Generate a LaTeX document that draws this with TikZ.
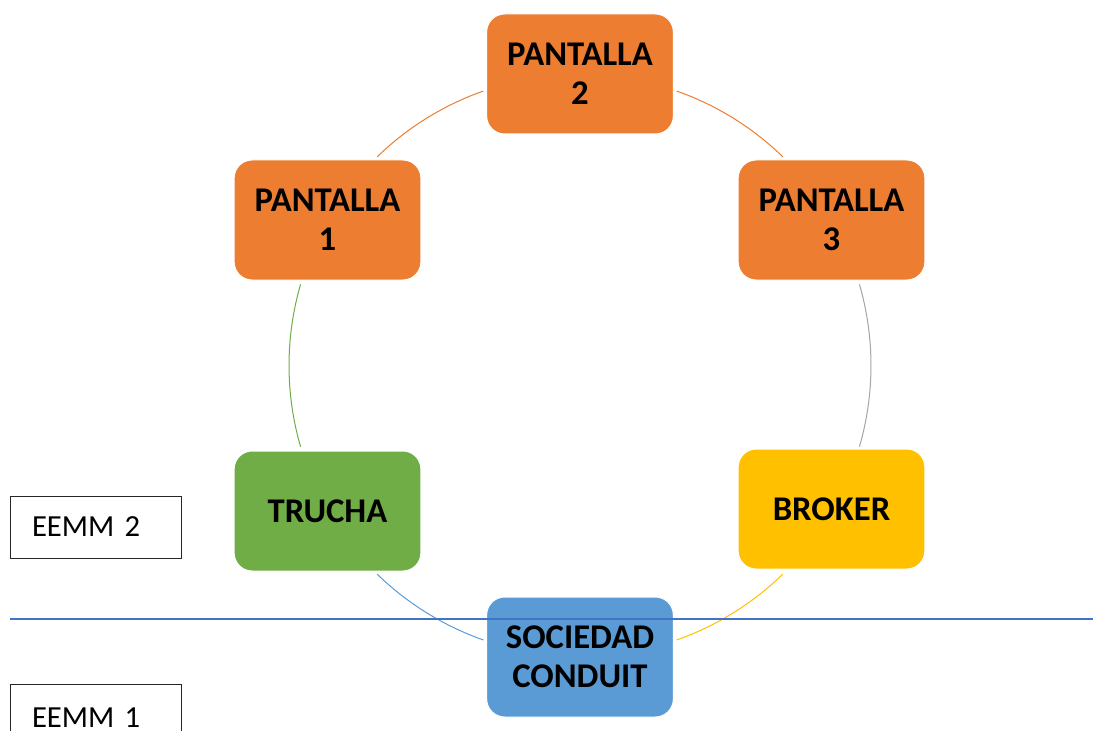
\documentclass[tikz,border=0pt]{standalone}
\usepackage{fontspec}
\setmainfont{Carlito}
\usetikzlibrary{calc}
\definecolor{ppOrange}{HTML}{ED7D31}
\definecolor{ppGray}{HTML}{A5A5A5}
\definecolor{ppYellow}{HTML}{FFC000}
\definecolor{ppBlue}{HTML}{5B9BD5}
\definecolor{ppGreen}{HTML}{70AD47}
\definecolor{ppLine}{HTML}{4472C4}

\begin{document}
\begin{tikzpicture}[
    x=0.75pt, y=-0.75pt,
    stage/.style={rectangle, rounded corners=13.5pt, draw=white, line width=0.75pt,
                  minimum width=140pt, minimum height=90pt, inner sep=2pt,
                  align=center, font=\fontsize{26}{29}\selectfont\bfseries},
    levelbox/.style={rectangle, draw=black!85, line width=0.75pt,
                     minimum width=128.25pt, text width=95.25pt, inner xsep=16.5pt,
                     align=left, font=\fontsize{23}{28}\selectfont},
    ring/.style={line width=0.75pt}
  ]
    \clip (0,0) rectangle (1093,731);

    % Ring of the cycle
    \coordinate (ring) at (580,365.5);
    \foreach \from/\to/\col in {134.2/109.4/ppOrange, 70.6/45.8/ppOrange,
                                16.2/-16.2/ppGray, -45.8/-70.6/ppYellow,
                                -109.4/-134.2/ppBlue, 196.2/163.8/ppGreen}{
      \draw[ring, \col] ($(ring)+(\from:218.25pt)$) arc[start angle=\from, end angle=\to, radius=218.25pt];
    }

    % Stages
    \node[stage, fill=ppOrange] (p2) at (580,74) {PANTALLA\\2};
    \node[stage, fill=ppOrange] (p1) at (327.5,220) {PANTALLA\\1};
    \node[stage, fill=ppOrange] (p3) at (831.5,220) {PANTALLA\\3};
    \node[stage, fill=ppGreen] (trucha) at (327.5,511) {TRUCHA};
    \node[stage, fill=ppYellow] (broker) at (831.5,509) {BROKER};
    \node[stage, fill=ppBlue] (conduit) at (580,657) {SOCIEDAD\\CONDUIT};

    % Levels
    \node[levelbox, minimum height=46.5pt] (eemm2) at (95.5,527) {EEMM 2};
    \node[levelbox, minimum height=51pt] (eemm1) at (95.5,718) {EEMM 1};

    % Separator
    \coordinate (sepL) at (10,619);
    \coordinate (sepR) at (1093,619);
    \draw[ppLine, line width=0.9pt] (sepL) -- (sepR);
\end{tikzpicture}
\end{document}
